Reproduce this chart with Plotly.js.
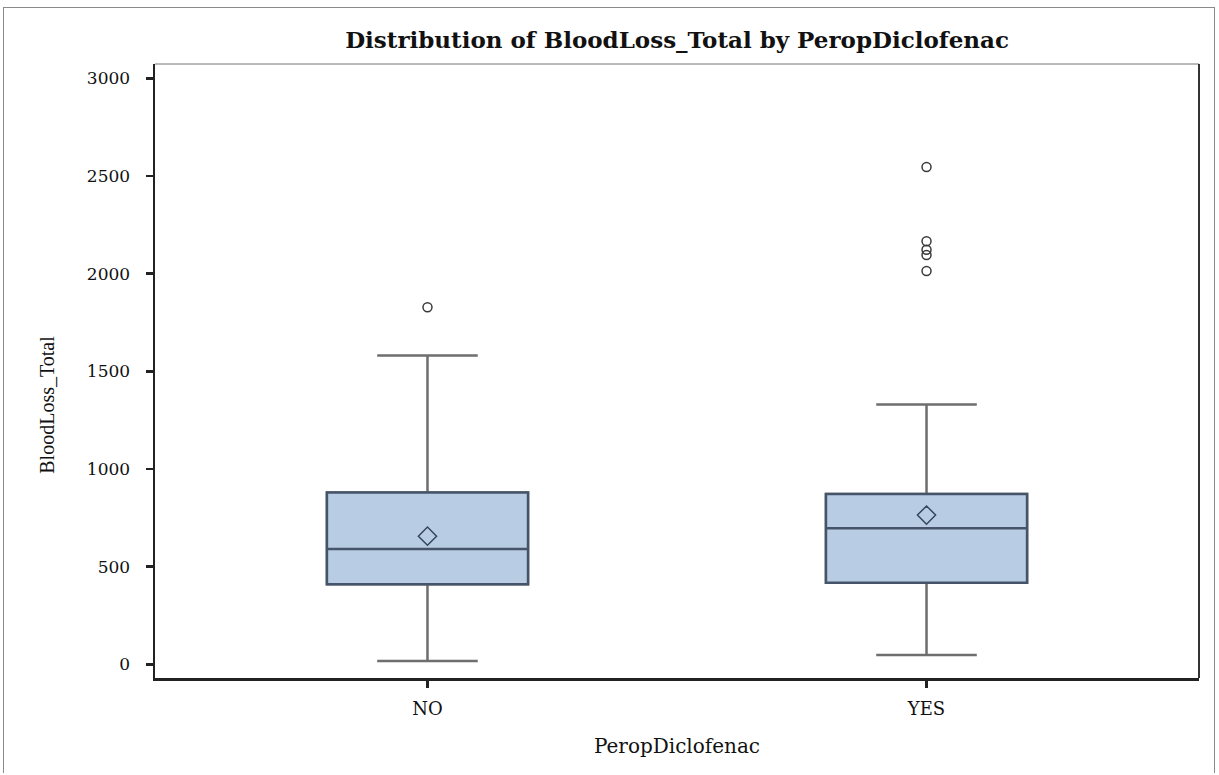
<!DOCTYPE html>
<html>
<head>
<meta charset="utf-8">
<script src="https://cdn.plot.ly/plotly-3.0.1.min.js"></script>
<style>
  html, body { margin: 0; padding: 0; background: #fff; }
  #wrap { position: relative; width: 1219px; height: 775px; }
  #chart { width: 1219px; height: 775px; }
  #frame { position: absolute; left: 3px; top: 7px; width: 1212px; height: 766px; border: 1px solid #8a8a8a; border-bottom: none; pointer-events: none; box-sizing: border-box; }
</style>
</head>
<body>
<div id="wrap">
  <div id="chart"></div>
  <div id="frame"></div>
</div>
<script>
// ---- data ----
const categories   = ['NO', 'YES'];
const q1           = [410, 418];
const medians      = [590, 697];
const q3           = [880, 872];
const lowerWhisker = [17, 48];
const upperWhisker = [1581, 1330];
const means        = [656, 764];
const outliersNO   = [1828];
const outliersYES  = [2546, 2166, 2122, 2095, 2013];
const yTicks       = [0, 500, 1000, 1500, 2000, 2500, 3000];

const outX = outliersNO.map(() => 'NO').concat(outliersYES.map(() => 'YES'));
const outY = outliersNO.concat(outliersYES);

const serif = 'DejaVu Serif, Liberation Serif, serif';

const traces = [
  // whiskers (grey)
  {
    type: 'box',
    x: categories,
    q1: q1,
    median: medians,
    q3: q3,
    lowerfence: lowerWhisker,
    upperfence: upperWhisker,
    boxpoints: false,
    width: 0.403,
    whiskerwidth: 0.5,
    fillcolor: '#b8cce4',
    line: { color: '#6e6e6e', width: 2.5 },
    showlegend: false,
    hoverinfo: 'y'
  },
  // box body + median (dark outline)
  {
    type: 'box',
    x: categories,
    q1: q1,
    median: medians,
    q3: q3,
    lowerfence: q1,
    upperfence: q3,
    boxpoints: false,
    width: 0.403,
    whiskerwidth: 0,
    fillcolor: '#b8cce4',
    line: { color: '#46546a', width: 2.5 },
    showlegend: false,
    hoverinfo: 'y'
  },
  {
    type: 'scatter',
    mode: 'markers',
    x: categories,
    y: means,
    marker: { symbol: 'diamond-open', size: 14, color: '#36465c', line: { width: 1.5 } },
    showlegend: false
  },
  {
    type: 'scatter',
    mode: 'markers',
    x: outX,
    y: outY,
    marker: { symbol: 'circle-open', size: 9, color: '#3a3a3a', line: { width: 1.5 } },
    showlegend: false
  }
];

const layout = {
  width: 1219,
  height: 775,
  margin: { l: 155, r: 20, t: 64, b: 97 },
  paper_bgcolor: '#fff',
  plot_bgcolor: '#fff',
  showlegend: false,
  boxmode: 'overlay',
  title: {
    text: '<b>Distribution of BloodLoss_Total by PeropDiclofenac</b>',
    font: { family: serif, size: 23, color: '#111' },
    x: 0.5554, xanchor: 'center',
    y: 0.948, yanchor: 'middle'
  },
  xaxis: {
    type: 'category',
    range: [-0.546, 1.546],
    showgrid: false,
    zeroline: false,
    showline: true,
    linecolor: '#222',
    linewidth: 2.5,
    ticks: 'outside',
    ticklen: 7,
    tickwidth: 2.5,
    tickcolor: '#222',
    ticklabelstandoff: 6,
    tickfont: { family: serif, size: 18, color: '#111' },
    title: { text: 'PeropDiclofenac', font: { family: serif, size: 20, color: '#111' }, standoff: 21 }
  },
  yaxis: {
    range: [-70, 3073],
    tickvals: yTicks,
    ticktext: yTicks.map(String),
    showgrid: false,
    zeroline: false,
    showline: true,
    linecolor: '#222',
    linewidth: 2.5,
    ticks: 'outside',
    ticklen: 7,
    tickwidth: 2.5,
    tickcolor: '#222',
    ticklabelstandoff: 12,
    tickfont: { family: serif, size: 17, color: '#111' }
  },
  annotations: [
    {
      text: 'BloodLoss_Total',
      xref: 'paper', yref: 'paper',
      x: -0.1035, y: 0.445,
      xanchor: 'center', yanchor: 'middle',
      textangle: -90,
      showarrow: false,
      font: { family: 'Liberation Serif, serif', size: 20, color: '#111' }
    }
  ],
  shapes: [
    { type: 'line', xref: 'paper', yref: 'paper', x0: 0, x1: 1, y0: 1, y1: 1, line: { color: '#777', width: 1 } },
    { type: 'line', xref: 'paper', yref: 'paper', x0: 1, x1: 1, y0: 0, y1: 1, line: { color: '#333', width: 2 } }
  ]
};

Plotly.newPlot('chart', traces, layout, { displayModeBar: false, staticPlot: true });
</script>
</body>
</html>
